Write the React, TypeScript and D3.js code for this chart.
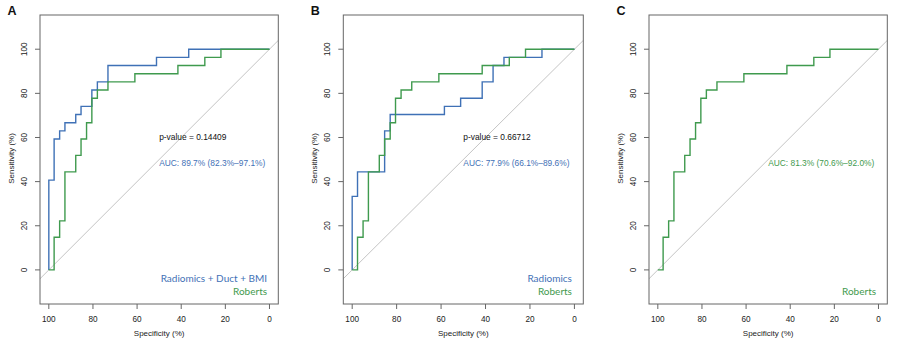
import React from "react";
import * as d3 from "d3";

// ---------- data ----------
const panelLabels = ["A", "B", "C"];

// Roberts (same curve in all three panels)
const robertsSpec = [100, 97.6, 95.1, 92.7, 87.8, 85.4, 82.9, 80.5, 78.0, 73.2, 61.0, 41.5, 29.3, 22.0, 0];
const robertsSens = [0, 14.8, 22.2, 44.4, 51.9, 59.3, 66.7, 77.8, 81.5, 85.2, 88.9, 92.6, 96.3, 100, 100];

// Panel A: Radiomics + Duct + BMI
const comboSpec = [100, 100, 97.6, 95.1, 92.7, 87.8, 85.4, 80.5, 78.0, 73.2, 51.2, 36.6, 0];
const comboSens = [0, 40.7, 59.3, 63.0, 66.7, 70.4, 74.1, 81.5, 85.2, 92.6, 96.3, 100, 100];

// Panel B: Radiomics
const radioSpec = [100, 100, 97.6, 85.4, 82.9, 58.5, 51.2, 41.5, 36.6, 31.7, 14.6, 0];
const radioSens = [0, 33.3, 44.4, 63.0, 70.4, 74.1, 77.8, 85.2, 92.6, 96.3, 100, 100];

const xTicks = [100, 80, 60, 40, 20, 0];
const yTicks = [0, 20, 40, 60, 80, 100];

const pValues = ["p-value = 0.14409", "p-value = 0.66712", ""];
const aucTexts = ["AUC: 89.7% (82.3%\u201397.1%)", "AUC: 77.9% (66.1%\u201389.6%)", "AUC: 81.3% (70.6%\u201392.0%)"];
const mainNames = ["Radiomics + Duct + BMI", "Radiomics", ""];

const BLUE = "#3f71b6";
const GREEN = "#3f9a4e";

// ---------- layout ----------
const boxLefts = [40, 343.3, 649];
const boxRights = [278.3, 583.3, 887.3];
const TOP = 15;
const BOTTOM = 304;

function Panel({ idx }: { idx: number }) {
  const left = boxLefts[idx];
  const right = boxRights[idx];
  const x = d3.scaleLinear().domain([104, -4]).range([left, right]);
  const y = d3.scaleLinear().domain([-15.45, 115.5]).range([BOTTOM, TOP]);

  const line = d3
    .line<number>()
    .x((d) => x(d))
    .curve(d3.curveStepAfter);

  const mkPath = (spec: number[], sens: number[]) =>
    d3
      .line<[number, number]>()
      .x((d) => x(d[0]))
      .y((d) => y(d[1]))
      .curve(d3.curveStepAfter)(spec.map((s, i) => [s, sens[i]] as [number, number])) || "";

  const clipId = `clip${idx}`;
  const font = "'Liberation Sans', Arial, sans-serif";
  const cx = (left + right) / 2;
  const cy = (TOP + BOTTOM) / 2;

  let mainSpec: number[] | null = null;
  let mainSens: number[] | null = null;
  if (idx === 0) {
    mainSpec = comboSpec;
    mainSens = comboSens;
  } else if (idx === 1) {
    mainSpec = radioSpec;
    mainSens = radioSens;
  }
  void line;

  return (
    <g>
      <defs>
        <clipPath id={clipId}>
          <rect x={left} y={TOP} width={right - left} height={BOTTOM - TOP} />
        </clipPath>
      </defs>
      {/* diagonal reference */}
      <line
        x1={x(110)}
        y1={y(-10)}
        x2={x(-10)}
        y2={y(110)}
        stroke="#c4c4c4"
        strokeWidth={1}
        clipPath={`url(#${clipId})`}
      />
      {/* curves */}
      {mainSpec && mainSens && (
        <path d={mkPath(mainSpec, mainSens)} fill="none" stroke={BLUE} strokeWidth={1.4} />
      )}
      <path d={mkPath(robertsSpec, robertsSens)} fill="none" stroke={GREEN} strokeWidth={1.4} />

      {/* box */}
      <rect x={left} y={TOP} width={right - left} height={BOTTOM - TOP} fill="none" stroke="#666" strokeWidth={1} />

      {/* x axis */}
      {xTicks.map((t) => (
        <g key={`x${t}`}>
          <line x1={x(t)} x2={x(t)} y1={BOTTOM} y2={BOTTOM + 5} stroke="#666" strokeWidth={1} />
          <text x={x(t)} y={322} textAnchor="middle" fontFamily={font} fontSize={8.2} fill="#222">
            {t}
          </text>
        </g>
      ))}
      {/* y axis */}
      {yTicks.map((t) => (
        <g key={`y${t}`}>
          <line x1={left - 5} x2={left} y1={y(t)} y2={y(t)} stroke="#666" strokeWidth={1} />
          <text
            transform={`translate(${left - 13.5},${y(t)}) rotate(-90)`}
            textAnchor="middle"
            fontFamily={font}
            fontSize={8.2}
            fill="#222"
          >
            {t}
          </text>
        </g>
      ))}
      <text x={cx} y={336} textAnchor="middle" fontFamily={font} fontSize={8} fill="#222">
        Specificity (%)
      </text>
      <text
        transform={`translate(${left - 26},${cy - 1}) rotate(-90)`}
        textAnchor="middle"
        fontFamily={font}
        fontSize={8}
        fill="#222"
      >
        Sensitivity (%)
      </text>

      {/* panel label */}
      <text x={left - 32.5} y={15} fontFamily={font} fontWeight="bold" fontSize={12.5} fill="#111">
        {panelLabels[idx]}
      </text>

      {/* annotations */}
      {pValues[idx] && (
        <text x={x(50)} y={y(60)} dy="0.35em" fontFamily={font} fontSize={8.4} fill="#111">
          {pValues[idx]}
        </text>
      )}
      <text
        x={x(50)}
        y={y(48.6)}
        dy="0.35em"
        fontFamily={font}
        fontSize={8.4}
        fill={idx === 2 ? GREEN : BLUE}
      >
        {aucTexts[idx]}
      </text>

      {/* legend */}
      {mainNames[idx] && (
        <text x={x(1.1)} y={281.7} textAnchor="end" fontFamily="Lato, sans-serif" fontSize={10} fill={BLUE}>
          {mainNames[idx]}
        </text>
      )}
      <text x={x(1.1)} y={295} textAnchor="end" fontFamily="Lato, sans-serif" fontSize={10} fill={GREEN}>
        Roberts
      </text>
    </g>
  );
}

export default function App() {
  return (
    <svg
      width={916}
      height={354}
      style={{ position: "absolute", left: 0, top: 0, background: "#fff" }}
    >
      <rect x={0} y={0} width={916} height={354} fill="#fff" />
      {[0, 1, 2].map((i) => (
        <Panel key={i} idx={i} />
      ))}
    </svg>
  );
}
